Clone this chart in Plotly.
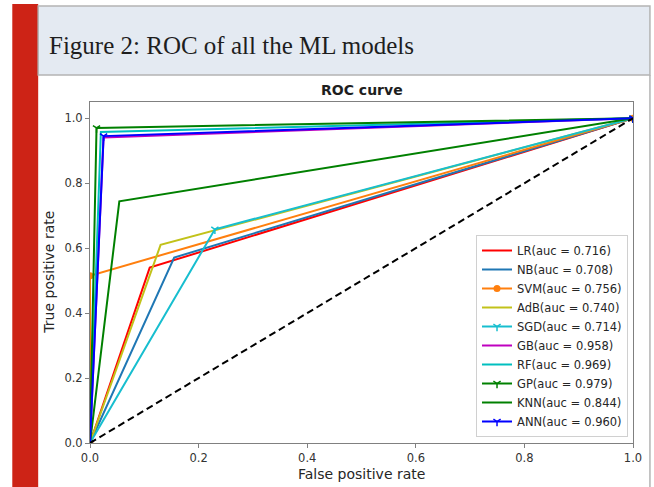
import plotly.graph_objects as go

# ---- data ----
models = ["LR", "NB", "SVM", "AdB", "SGD", "GB", "RF", "GP", "KNN", "ANN"]
auc = [0.716, 0.708, 0.756, 0.740, 0.714, 0.958, 0.969, 0.979, 0.844, 0.960]
fpr_mid = [0.11, 0.155, 0.0, 0.13, 0.23, 0.025, 0.02, 0.012, 0.054, 0.025]
tpr_mid = [0.54, 0.571, 0.515, 0.61, 0.658, 0.941, 0.958, 0.97, 0.744, 0.945]
x_ticks = [0.0, 0.2, 0.4, 0.6, 0.8, 1.0]
y_ticks = [0.0, 0.2, 0.4, 0.6, 0.8, 1.0]

colors = ["#ff0000", "#1f77b4", "#ff7f0e", "#c2c21a", "#17becf",
          "#bf00bf", "#00bfbf", "#008000", "#008000", "#0000ff"]
symbols = [None, None, "circle", None, "y-down-open", None, None,
           "y-down-open", None, "y-down-open"]

W, H = 654, 487
L, R, T, B = 90, 635, 102, 443


def px_x(p):
    return (p - L) / (R - L)


def px_y(p):
    return (B - p) / (B - T)


fig = go.Figure()
for i, m in enumerate(models):
    sym = symbols[i]
    mode = "lines+markers" if sym else "lines"
    marker = None
    if sym == "circle":
        marker = dict(symbol="circle", size=7, color=colors[i])
    elif sym:
        marker = dict(symbol=sym, size=6, color=colors[i],
                      line=dict(color=colors[i], width=1.5))
    fig.add_trace(go.Scatter(
        x=[0, fpr_mid[i], 1], y=[0, tpr_mid[i], 1],
        mode=mode, name=f"{m}(auc = {auc[i]:.3f})",
        line=dict(color=colors[i], width=2), marker=marker,
    ))

fig.add_trace(go.Scatter(x=[0, 1], y=[0, 1], mode="lines", showlegend=False,
                         line=dict(color="black", width=2, dash="7px,4px")))

shapes = [
    dict(type="rect", xref="paper", yref="paper", x0=px_x(12), x1=px_x(38),
         y0=px_y(487), y1=px_y(4), fillcolor="#cd2316", line=dict(width=0),
         layer="above"),
    dict(type="rect", xref="paper", yref="paper", x0=px_x(38), x1=px_x(652),
         y0=px_y(75), y1=px_y(6), fillcolor="#e4eaf2",
         line=dict(color="#b4b4b4", width=1.5), layer="above"),
    dict(type="line", xref="paper", yref="paper", x0=px_x(652), x1=px_x(652),
         y0=px_y(487), y1=px_y(75), line=dict(color="#b4b4b4", width=1.5),
         layer="above"),
]

annotations = [
    dict(text="Figure 2: ROC of all the ML models", xref="paper", yref="paper",
         x=px_x(47), y=px_y(46), xanchor="left", yanchor="middle",
         showarrow=False, font=dict(family="Liberation Serif", size=25, color="#1e1e1e")),
    dict(text="<b>ROC curve</b>", xref="paper", yref="paper", x=0.5, y=px_y(90),
         xanchor="center", yanchor="middle", showarrow=False,
         font=dict(family="DejaVu Sans", size=14, color="#1e1e1e")),
    dict(text="False positive rate", xref="paper", yref="paper", x=0.5, y=px_y(474),
         xanchor="center", yanchor="middle", showarrow=False,
         font=dict(family="DejaVu Sans", size=14, color="#262626")),
    dict(text="True positive rate", xref="paper", yref="paper", x=px_x(48), y=0.5,
         xanchor="center", yanchor="middle", showarrow=False, textangle=-90,
         font=dict(family="DejaVu Sans", size=14, color="#262626")),
]

axis_common = dict(showgrid=False, zeroline=False, showline=True, linecolor="#808080",
                   linewidth=1, mirror=True, ticks="outside", ticklen=4,
                   tickcolor="#808080", tickformat=".1f",
                   tickfont=dict(family="DejaVu Sans", size=11.5, color="#333333"))

fig.update_layout(
    width=W, height=H,
    margin=dict(l=L, r=W - R, t=T, b=H - B, pad=0),
    paper_bgcolor="white", plot_bgcolor="white",
    xaxis=dict(range=[0, 1], tickvals=x_ticks, **axis_common),
    yaxis=dict(range=[0, 1.05], tickvals=y_ticks, **axis_common),
    shapes=shapes, annotations=annotations,
    legend=dict(x=px_x(630), y=px_y(437), xanchor="right", yanchor="bottom",
                bgcolor="rgba(255,255,255,0.85)", bordercolor="#d0d0d0", borderwidth=1,
                font=dict(family="DejaVu Sans", size=11.5, color="#262626"),
                tracegroupgap=0),
    showlegend=True,
)

fig.write_html("out.html", config={"displayModeBar": False},
               post_script="document.body.style.margin='0';document.body.style.overflow='hidden';")
